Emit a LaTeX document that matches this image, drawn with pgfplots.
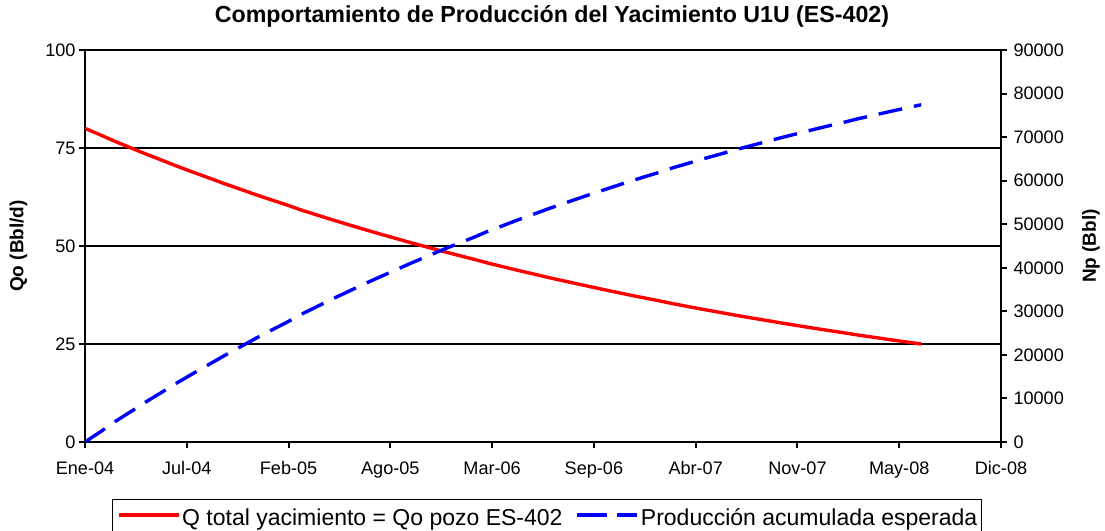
\documentclass[border=0pt]{standalone}
\usepackage{pgfplots}
\usepackage{pgfplotstable}
\pgfplotsset{compat=1.18}
\usepackage{fontspec}
\setmainfont{Liberation Sans}

\pgfplotstableread{
x q np
0 80.00 0
31 78.30 2400
60 76.63 4749
91 74.99 7048
121 73.40 9298
152 71.83 11499
182 70.30 13655
213 68.80 15764
244 67.34 17828
274 65.90 19848
305 64.50 21825
335 63.12 23760
366 61.78 25653
397 60.46 27507
425 59.17 29321
456 57.91 31096
486 56.68 32833
517 55.47 34533
547 54.29 36197
578 53.13 37826
609 52.00 39420
639 50.89 40980
670 49.81 42507
700 48.75 44001
731 47.71 45464
762 46.69 46895
790 45.70 48296
821 44.72 49666
851 43.77 51008
882 42.84 52321
912 41.92 53606
943 41.03 54864
974 40.16 56095
1004 39.30 57299
1035 38.46 58478
1065 37.64 59632
1096 36.84 60761
1127 36.06 61867
1155 35.29 62948
1186 34.53 64007
1216 33.80 65043
1247 33.08 66057
1277 32.37 67049
1308 31.68 68021
1339 31.01 68971
1369 30.35 69901
1400 29.70 70812
1430 29.07 71703
1461 28.45 72575
1492 27.84 73428
1521 27.25 74264
1552 26.67 75081
1582 26.10 75881
1613 25.54 76664
1643 25.00 77430
}\data

\newcommand\tickfont{\fontsize{18.1bp}{22bp}\selectfont}
\newcommand\labfont{\fontsize{19bp}{23bp}\selectfont\bfseries}
\newcommand\legfont{\fontsize{23bp}{27bp}\selectfont}

\begin{document}
\begin{tikzpicture}
\path[use as bounding box] (0,0) rectangle (1105bp,531bp);
\begin{axis}[
  at={(85bp,89bp)}, anchor=south west,
  scale only axis, width=916bp, height=392bp,
  xmin=0, xmax=1800, ymin=0, ymax=100,
  xtick={0,200,...,1800},
  xticklabels={Ene-04,Jul-04,Feb-05,Ago-05,Mar-06,Sep-06,Abr-07,Nov-07,May-08,Dic-08},
  ytick={0,25,50,75,100},
  yticklabels={0,25,50,75,100},
  ymajorgrids, grid style={black, line width=2bp},
  axis line style={line width=2bp},
  tick style={black, line width=2bp},
  tick align=outside, major tick length=6bp,
  xtick pos=bottom, ytick pos=left,
  ticklabel style={font=\tickfont},
  xticklabel style={yshift=-10bp},
  ylabel={Qo (Bbl/d)},
  ylabel style={font=\labfont, at={(axis description cs:-0.0726,0.5)}, anchor=center},
  title={Comportamiento de Producción del Yacimiento U1U (ES-402)},
  title style={font=\fontsize{23.2bp}{26bp}\selectfont\bfseries, at={(axis description cs:0.5098,1)}, anchor=center, yshift=28bp},
  legend columns=2,
  legend style={at={(axis description cs:0.5044,-0.1455)}, anchor=north, draw=black, line width=1.2bp,
    font=\legfont, inner xsep=4.5bp, inner ysep=9bp,
    nodes={inner sep=0bp},
    /tikz/every odd column/.append style={column sep=2bp},
    /tikz/every even column/.append style={column sep=13bp}},
  legend image code/.code={\draw[#1] (0bp,0.3em) -- (60bp,0.3em);},
]
\addplot[red, line width=3.4bp, no markers] table[x=x, y=q] {\data};
\addlegendentry{Q total yacimiento = Qo pozo ES-402}
\addlegendimage{blue, line width=3.4bp, dash pattern=on 30bp off 10bp}
\addlegendentry{Producción acumulada esperada}
\end{axis}
\begin{axis}[
  at={(85bp,89bp)}, anchor=south west,
  scale only axis, width=916bp, height=392bp,
  xmin=0, xmax=1800, ymin=0, ymax=90000,
  axis x line=none, axis y line*=right,
  scaled y ticks=false,
  ytick={0,10000,...,90000},
  yticklabels={0,10000,20000,30000,40000,50000,60000,70000,80000,90000},
  axis line style={line width=2bp},
  tick style={black, line width=2bp},
  tick align=outside, major tick length=6bp,
  ticklabel style={font=\tickfont},
  yticklabel style={xshift=3bp},
  ylabel={Np (Bbl)},
  ylabel style={font=\labfont, at={(axis description cs:1.0983,0.5)}, anchor=center},
]
\addplot[blue, line width=3.4bp, dash pattern=on 24bp off 12bp, no markers] table[x=x, y=np] {\data};
\end{axis}
\end{tikzpicture}
\end{document}
